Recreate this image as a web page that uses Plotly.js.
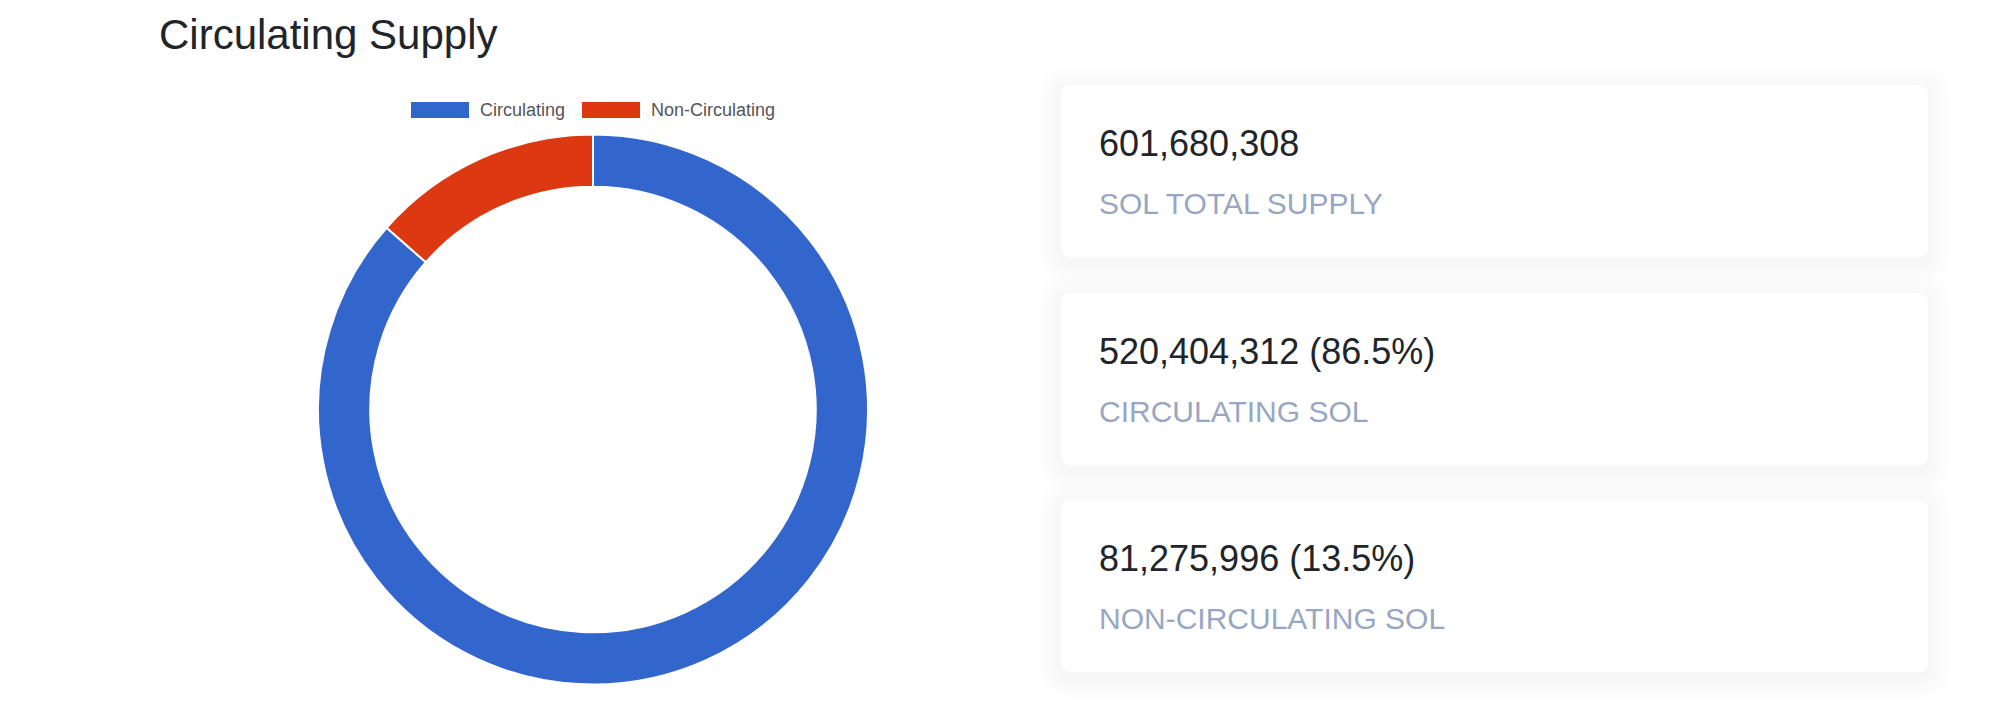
<!DOCTYPE html>
<html>
<head>
<meta charset="utf-8">
<script src="https://cdn.plot.ly/plotly-3.0.1.min.js"></script>
<style>
  html, body { margin: 0; padding: 0; background: #ffffff; }
  #chart { width: 1999px; height: 726px; }
</style>
</head>
<body>
<div id="chart"></div>
<script>
// ---- data ----
const labels = ["Circulating", "Non-Circulating"];
const values = [520404312, 81275996];
const colors = ["#3366CC", "#DC3912"];
const chartTitle = "Circulating Supply";
const cardLabels = ["SOL TOTAL SUPPLY", "CIRCULATING SOL", "NON-CIRCULATING SOL"];

// ---- layout helpers ----
const W = 1999, H = 726;
const px = x => x / W;
const py = y => 1 - y / H;
const FONT = "Helvetica, Arial, 'Liberation Sans', sans-serif";

function roundRect(x0, y0, x1, y1, r) {
  const X0 = px(x0), X1 = px(x1), Y0 = py(y0), Y1 = py(y1);
  const rx = r / W, ry = r / H;
  return `M ${X0 + rx},${Y0} L ${X1 - rx},${Y0} Q ${X1},${Y0} ${X1},${Y0 - ry} ` +
         `L ${X1},${Y1 + ry} Q ${X1},${Y1} ${X1 - rx},${Y1} L ${X0 + rx},${Y1} ` +
         `Q ${X0},${Y1} ${X0},${Y1 + ry} L ${X0},${Y0 - ry} Q ${X0},${Y0} ${X0 + rx},${Y0} Z`;
}

const shapes = [];
const annotations = [];

function card(x0, y0, x1, y1, alpha) {
  // soft shadow layers
  for (let i = 8; i >= 1; i--) {
    const s = i * 3;
    shapes.push({
      type: "path", xref: "paper", yref: "paper",
      path: roundRect(x0 - s, y0 - s + 4, x1 + s, y1 + s + 4, 10 + s),
      fillcolor: "rgba(0,0,0," + alpha + ")", line: { width: 0 }, layer: "below"
    });
  }
  shapes.push({
    type: "path", xref: "paper", yref: "paper",
    path: roundRect(x0, y0, x1, y1, 10),
    fillcolor: "#ffffff", line: { width: 0 }, layer: "below"
  });
}

// bottom (next section) card edge
card(160, 708, 1032, 800, 0.0018);

// stat cards
const total = values.reduce((a, b) => a + b, 0);
const fmt = v => v.toLocaleString("en-US");
const cardValues = [
  fmt(total),
  fmt(values[0]) + " (" + (values[0] / total * 100).toFixed(1) + "%)",
  fmt(values[1]) + " (" + (values[1] / total * 100).toFixed(1) + "%)"
];
const cardTops = [85, 293, 500];
cardTops.forEach((t, i) => {
  card(1061, t, 1928, t + 172, 0.0024);
  annotations.push({
    xref: "paper", yref: "paper", x: px(1097), y: py(t + 58),
    xanchor: "left", yanchor: "middle", showarrow: false,
    text: cardValues[i], font: { family: FONT, size: 36, color: "#212529" }
  });
  annotations.push({
    xref: "paper", yref: "paper", x: px(1097), y: py(t + 118),
    xanchor: "left", yanchor: "middle", showarrow: false,
    text: cardLabels[i], font: { family: FONT, size: 30, color: "#98a6c2" }
  });
});

// title
annotations.push({
  xref: "paper", yref: "paper", x: px(157), y: py(34),
  xanchor: "left", yanchor: "middle", showarrow: false,
  text: chartTitle, font: { family: FONT, size: 42, color: "#212529" }
});

// custom legend (built from labels/colors)
const legendX = [411, 582];
labels.forEach((lab, i) => {
  shapes.push({
    type: "rect", xref: "paper", yref: "paper",
    x0: px(legendX[i]), x1: px(legendX[i] + 58), y0: py(118), y1: py(102),
    fillcolor: colors[i], line: { width: 0 }
  });
  annotations.push({
    xref: "paper", yref: "paper", x: px(legendX[i] + 67), y: py(110),
    xanchor: "left", yanchor: "middle", showarrow: false,
    text: lab, font: { family: FONT, size: 18, color: "#555555" }
  });
});

// donut geometry
const cx = 593, cy = 409.5, R = 275;

const trace = {
  type: "pie",
  labels: labels,
  values: values,
  sort: false,
  direction: "clockwise",
  rotation: 0,
  hole: 0.81,
  textinfo: "none",
  hoverinfo: "label+value+percent",
  marker: { colors: colors, line: { color: "#ffffff", width: 2 } },
  domain: { x: [px(cx - R), px(cx + R)], y: [py(cy + R), py(cy - R)] },
  showlegend: false
};

const layout = {
  width: W, height: H,
  margin: { l: 0, r: 0, t: 0, b: 0 },
  paper_bgcolor: "#ffffff",
  plot_bgcolor: "#ffffff",
  showlegend: false,
  shapes: shapes,
  annotations: annotations,
  font: { family: FONT }
};

Plotly.newPlot("chart", [trace], layout, { displayModeBar: false, staticPlot: true });
</script>
</body>
</html>
